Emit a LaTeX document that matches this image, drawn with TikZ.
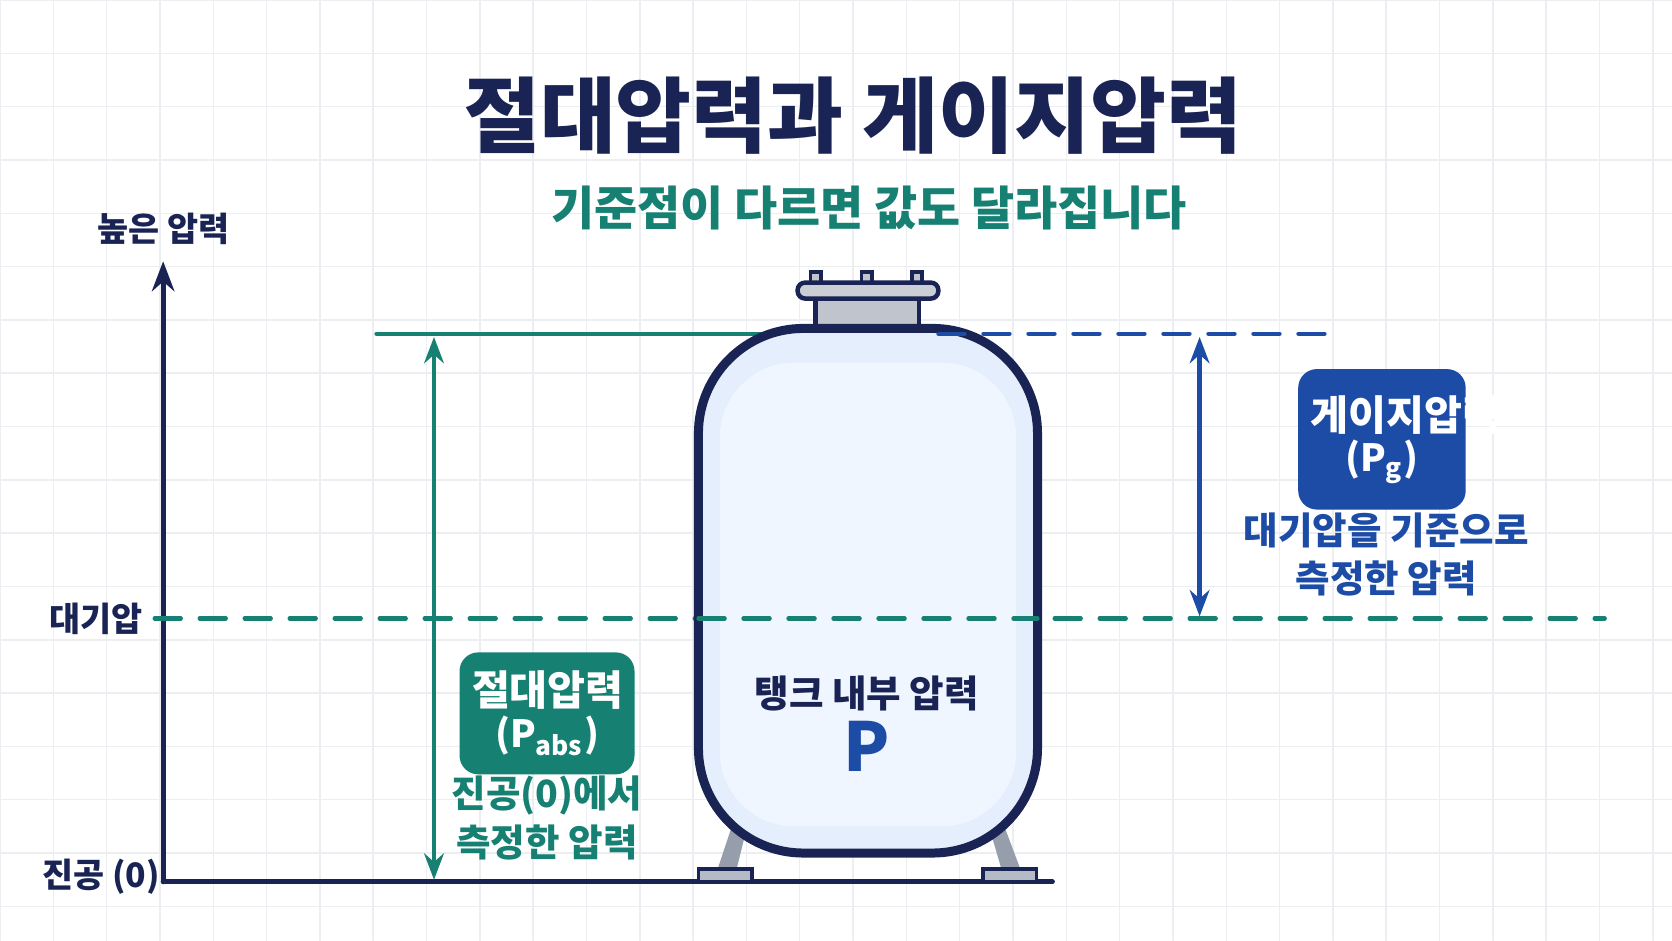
\documentclass[tikz,border=0pt]{standalone}
\usepackage{fontspec}
\setmainfont{Noto Sans CJK KR}
\newcommand{\cjkbold}{\bfseries}
\usetikzlibrary{arrows.meta}
\definecolor{navy}{RGB}{26, 36, 84}
\definecolor{teal}{RGB}{22, 128, 114}
\definecolor{royal}{RGB}{28, 76, 166}
\definecolor{steel}{RGB}{150, 158, 172}
\definecolor{tankfill}{RGB}{228, 238, 252}
\definecolor{tankin}{RGB}{240, 246, 255}
\definecolor{gridc}{RGB}{236, 238, 242}

\begin{document}
\begin{tikzpicture}[x=0.01cm, y=-0.01cm, line cap=round,
  lbl/.style={font=\cjkbold\fontsize{9}{11}\selectfont, align=center},
  tag/.style={rounded corners=5pt, text=white, align=center, font=\cjkbold\fontsize{11}{13}\selectfont},
  dim/.style={line width=1.3pt, {Stealth[length=7pt]}-{Stealth[length=7pt]}}]

  \useasboundingbox (0, 0) rectangle (1568, 882);
  \foreach \gx in {0, 50, ..., 1550} \draw[gridc, line width=0.4pt] (\gx, 0) -- (\gx, 882);
  \foreach \gy in {0, 50, ..., 850} \draw[gridc, line width=0.4pt] (0, \gy) -- (1568, \gy);

  % titles
  \node[font=\cjkbold\fontsize{22}{26}\selectfont, text=navy] (title) at (800, 108) {절대압력과 게이지압력};
  \node[font=\cjkbold\fontsize{12.5}{15}\selectfont, text=teal] (subtitle) at (815, 195) {기준점이 다르면 값도 달라집니다};

  % axis
  \coordinate (origin) at (153, 827);
  \coordinate (axistop) at (153, 245);
  \coordinate (baseend) at (987, 827);
  \draw[navy, line width=1.3pt, -{Stealth[length=8pt]}] (origin) -- (axistop);
  \draw[navy, line width=1.3pt] (origin) -- (baseend);
  \node[lbl, text=navy] (high) at (153, 215) {높은 압력};
  \node[lbl, text=navy] (vac) at (95, 822) {진공 (0)};
  \node[lbl, text=navy] (atm) at (90, 580) {대기압};

  % reference lines
  \coordinate (atmA) at (145, 580);
  \coordinate (atmB) at (1505, 580);
  \draw[teal, line width=1.1pt, dash pattern=on 7pt off 5pt] (atmA) -- (atmB);
  \coordinate (topA) at (353, 313);
  \coordinate (topB) at (720, 313);
  \coordinate (topC) at (880, 313);
  \coordinate (topD) at (1250, 313);
  \draw[teal, line width=1.1pt] (topA) -- (topB);

  % tank
  \fill[steel] (688, 770) -- (702, 770) -- (690, 818) -- (672, 818) -- cycle;
  \fill[steel] (926, 770) -- (940, 770) -- (958, 818) -- (940, 818) -- cycle;
  \draw[navy, fill=steel!70, line width=1pt] (655, 815) rectangle (705, 827);
  \draw[navy, fill=steel!70, line width=1pt] (922, 815) rectangle (972, 827);
  \draw[navy, fill=steel!60, line width=1.2pt] (765, 278) rectangle (862, 310);
  \foreach \bx in {765, 813, 860}
    \draw[navy, fill=steel!60, line width=1pt] (\bx-5, 255) rectangle (\bx+5, 267);
  \draw[navy, fill=steel!50, line width=1.2pt, rounded corners=2pt] (748, 265) rectangle (880, 280);
  \draw[navy, fill=tankfill, line width=2.4pt, rounded corners=28pt] (655, 308) rectangle (973, 800);
  \fill[tankin, rounded corners=20pt] (675, 340) rectangle (953, 775);
  \draw[royal, line width=1.1pt, dash pattern=on 7pt off 5pt] (topC) -- (topD);
  \draw[teal, line width=1.1pt, dash pattern=on 7pt off 5pt] (655, 580) -- (973, 580);
  \node[text=navy, font=\cjkbold\fontsize{10}{12}\selectfont] (inner) at (813, 650) {탱크 내부 압력};
  \node[text=royal, font=\cjkbold\fontsize{18}{20}\selectfont] (pp) at (813, 700) {P};

  % dimension arrows
  \coordinate (absTop) at (407, 316);
  \coordinate (absBot) at (407, 825);
  \draw[dim, teal] (absTop) -- (absBot);
  \coordinate (gTop) at (1125, 316);
  \coordinate (gBot) at (1125, 578);
  \draw[dim, royal] (gTop) -- (gBot);

  % tags
  \node[tag, fill=teal, text width=40pt, inner ysep=5pt] (abs) at (513, 669)
    {절대압력\\[-2pt]{\fontsize{10}{12}\selectfont(\textit{P}\textsubscript{abs})}};
  \node[lbl, text=teal, font=\cjkbold\fontsize{10}{13}\selectfont] (absnote) at (513, 767) {진공(0)에서\\측정한 압력};
  \node[tag, fill=royal, text width=38pt, inner ysep=7pt] (gauge) at (1296, 412)
    {게이지압력\\[-2pt]{\fontsize{10}{12}\selectfont(\textit{P}\textsubscript{g})}};
  \node[lbl, text=royal, font=\cjkbold\fontsize{10}{13}\selectfont] (gnote) at (1300, 520) {대기압을 기준으로\\측정한 압력};
\end{tikzpicture}
\end{document}
